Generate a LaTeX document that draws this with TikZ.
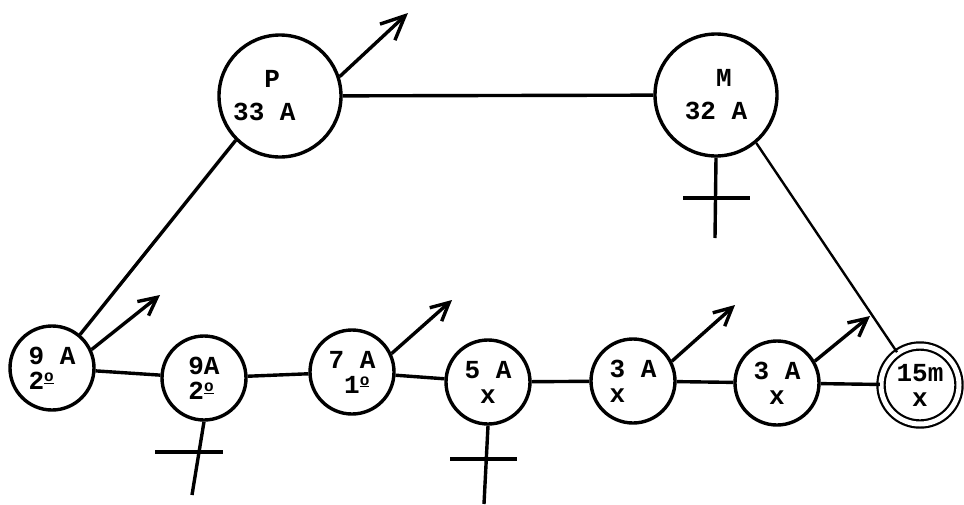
\documentclass[tikz,border=0pt]{standalone}
\usepackage{fontspec}
\setmainfont{Liberation Mono}
\usetikzlibrary{arrows.meta}

\newcommand{\ordo}{\raisebox{8pt}{\fontsize{16}{16}\selectfont\underline{o}}}

\tikzset{
    vertex/.style={circle, draw, line width=3.4pt, inner sep=0pt, minimum size=84pt,
        align=left, font=\bfseries\fontsize{26}{25}\selectfont},
    bigvertex/.style={vertex, minimum size=122pt},
    lastvertex/.style={vertex, double, line width=2.2pt, double distance=5pt, minimum size=78pt},
    edge/.style={line width=3.4pt},
    pointer/.style={line width=3.4pt, ->},
}

\begin{document}
\begin{tikzpicture}[x=1pt, y=-1pt, >={Straight Barb[length=18pt,width=18pt]}]
            \useasboundingbox (0,0) rectangle (964,504);

            % top pair
            \node[bigvertex] (P) at (280,96) {\hphantom{33}P\\[8pt]33~A\hphantom{00}};
            \node[bigvertex] (M) at (716,95) {\hphantom{32}M\\[8pt]32~A};

            % bottom row
            \node[vertex] (n1) at (52,368) {9~A\\2\ordo};
            \node[vertex] (n2) at (204,378) {9A\\2\ordo};
            \node[vertex] (n3) at (352,372) {7~A\\\hphantom{7}1\ordo};
            \node[vertex] (n4) at (488,382) {5~A\\\hphantom{5}x};
            \node[vertex] (n5) at (633,381) {3~A\\x};
            \node[vertex] (n6) at (777,383) {3~A\\\hphantom{3}x};
            \node[lastvertex] (n7) at (920,385) {15m\\\hphantom{1}x};

            \draw[edge] (P) -- (M);
            \draw[edge] (P.225) -- (n1.50);
            \draw[line width=2.4pt] (M.310) -- (n7.125);
            \foreach \a/\b in {n1/n2, n2/n3, n3/n4, n4/n5, n5/n6, n6/n7}
                \draw[edge] (\a) -- (\b);

            % arrows
            \coordinate (pa) at (408,13);
            \coordinate (a1) at (160,295);
            \coordinate (a3) at (452,300);
            \coordinate (a5) at (735,305);
            \coordinate (a6) at (870,316);
            \draw[pointer, >={Straight Barb[length=24pt,width=22pt]}] (P.18) -- (pa);
            \draw[pointer] (n1.25) -- (a1);
            \draw[pointer] (n3.25) -- (a3);
            \draw[pointer] (n5.27) -- (a5);
            \draw[pointer] (n6.30) -- (a6);

            % crosses
            \coordinate (mx) at (715,238);
            \coordinate (mxl) at (683,198);
            \coordinate (mxr) at (750,198);
            \draw[edge] (M.south) -- (mx);
            \draw[edge] (mxl) -- (mxr);

            \coordinate (x2) at (192,495);
            \coordinate (x2l) at (155,452);
            \coordinate (x2r) at (223,452);
            \draw[edge] (n2.south) -- (x2);
            \draw[edge] (x2l) -- (x2r);

            \coordinate (x4) at (484,504);
            \coordinate (x4l) at (450,459);
            \coordinate (x4r) at (517,459);
            \draw[edge] (n4.south) -- (x4);
            \draw[edge] (x4l) -- (x4r);
        \end{tikzpicture}
\end{document}
